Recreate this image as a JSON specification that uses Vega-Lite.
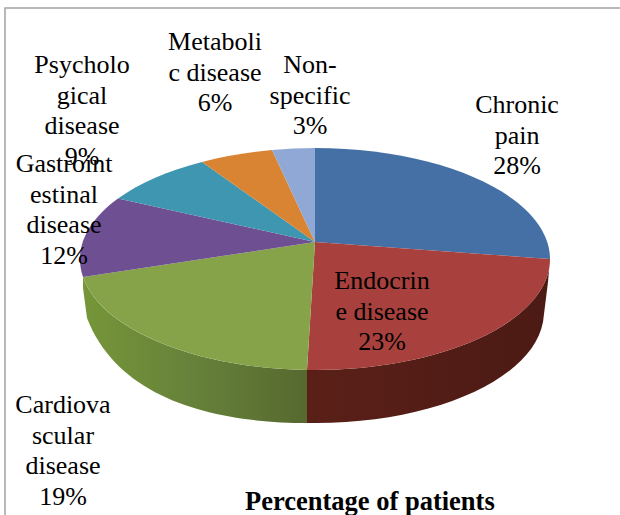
{
  "$schema": "https://vega.github.io/schema/vega-lite/v6.json",
  "width": 620,
  "height": 515,
  "autosize": "none",
  "padding": {"left": 5, "top": 8, "right": 0, "bottom": 0},
  "background": "white",
  "view": {"stroke": "#a3a3a3", "strokeWidth": 1.5},
  "title": {"text": "Percentage of patients", "font": "Liberation Serif", "fontSize": 26.5, "fontWeight": "bold", "color": "#000000", "anchor": "start", "frame": "group", "offset": 0, "dx": 240, "dy": 528, "baseline": "alphabetic"},
  "datasets": {
    "slices": [
      {"category": "Chronic pain", "percent": 28, "label": "Chronic\npain\n28%"},
      {"category": "Endocrine disease", "percent": 23, "label": "Endocrin\ne disease\n23%"},
      {"category": "Cardiovascular disease", "percent": 19, "label": "Cardiova\nscular\ndisease\n19%"},
      {"category": "Gastrointestinal disease", "percent": 12, "label": "Gastroint\nestinal\ndisease\n12%"},
      {"category": "Psychological disease", "percent": 9, "label": "Psycholo\ngical\ndisease\n9%"},
      {"category": "Metabolic disease", "percent": 6, "label": "Metaboli\nc disease\n6%"},
      {"category": "Non-specific", "percent": 3, "label": "Non-\nspecific\n3%"}
    ],
    "redSide": [{"category": "Endocrine disease"}],
    "greenSide": [{"category": "Cardiovascular disease"}]
  },
  "encoding": {
    "x": {"datum": 310, "type": "quantitative", "scale": {"domain": [0, 620]}, "axis": null},
    "y": {"datum": 251, "type": "quantitative", "scale": {"domain": [0, 515], "reverse": true}, "axis": null}
  },
  "layer": [
    {
      "data": {"name": "greenSide"},
      "mark": {"type": "point", "filled": true, "opacity": 1, "size": 4, "strokeWidth": 0, "fill": {"gradient": "linear", "x1": 0, "x2": 1, "y1": 0, "y2": 0, "stops": [{"offset": 0, "color": "#769639"}, {"offset": 0.5, "color": "#66813a"}, {"offset": 1, "color": "#56692f"}]}, "shape": "M-8,111 L-8,164 C-90,164 -195,145 -228,59 L-232,29 L-232,18 A235 111 0 0 0 -8,111 Z"}
    },
    {
      "data": {"name": "redSide"},
      "mark": {"type": "point", "filled": true, "opacity": 1, "size": 4, "strokeWidth": 0, "fill": {"gradient": "linear", "x1": 0, "x2": 1, "y1": 0, "y2": 0, "stops": [{"offset": 0, "color": "#5a2018"}, {"offset": 1, "color": "#4c1a14"}]}, "shape": "M235,0 L233,23 L228,63 A228 111 0 0 1 -8,164 L-8,111 A235 111 0 0 0 235,0 Z"}
    },
    {
      "data": {"name": "slices"},
      "mark": {"type": "point", "filled": true, "opacity": 1, "size": 4, "strokeWidth": 0},
      "encoding": {
        "fill": {"field": "category", "type": "nominal", "legend": null, "scale": {
          "domain": ["Chronic pain", "Endocrine disease", "Cardiovascular disease", "Gastrointestinal disease", "Psychological disease", "Metabolic disease", "Non-specific"],
          "range": ["#4470a6", "#a8403d", "#87a34a", "#6d4f92", "#3f96b0", "#d98433", "#8fa8d5"]}},
        "shape": {"field": "category", "type": "nominal", "legend": null, "scale": {
          "domain": ["Chronic pain", "Endocrine disease", "Cardiovascular disease", "Gastrointestinal disease", "Psychological disease", "Metabolic disease", "Non-specific"],
          "range": [
            "M0,-17 L0,-111 A235 111 0 0 1 235,0 Z",
            "M0,-17 L235,0 A235 111 0 0 1 -8,111 Z",
            "M0,-17 L-8,111 A235 111 0 0 1 -232,18 Z",
            "M0,-17 L-232,18 A235 111 0 0 1 -197,-60.5 Z",
            "M0,-17 L-197,-60.5 A235 111 0 0 1 -113,-97 Z",
            "M0,-17 L-113,-97 A235 111 0 0 1 -43,-109 Z",
            "M0,-17 L-43,-109 A235 111 0 0 1 0,-111 Z"
          ]}}
      }
    },
    {
      "data": {"name": "slices"},
      "transform": [{"filter": "datum.category === 'Chronic pain'"}],
      "mark": {"type": "text", "font": "Liberation Serif", "fontSize": 26, "lineHeight": 30.7, "align": "center", "baseline": "alphabetic", "color": "#000000", "lineBreak": "\n"},
      "encoding": {"text": {"field": "label"}, "x": {"datum": 512}, "y": {"datum": 105}}
    },
    {
      "data": {"name": "slices"},
      "transform": [{"filter": "datum.category === 'Endocrine disease'"}],
      "mark": {"type": "text", "font": "Liberation Serif", "fontSize": 26, "lineHeight": 30.7, "align": "center", "baseline": "alphabetic", "color": "#000000", "lineBreak": "\n"},
      "encoding": {"text": {"field": "label"}, "x": {"datum": 377}, "y": {"datum": 281}}
    },
    {
      "data": {"name": "slices"},
      "transform": [{"filter": "datum.category === 'Cardiovascular disease'"}],
      "mark": {"type": "text", "font": "Liberation Serif", "fontSize": 26, "lineHeight": 30.7, "align": "center", "baseline": "alphabetic", "color": "#000000", "lineBreak": "\n"},
      "encoding": {"text": {"field": "label"}, "x": {"datum": 58}, "y": {"datum": 405}}
    },
    {
      "data": {"name": "slices"},
      "transform": [{"filter": "datum.category === 'Gastrointestinal disease'"}],
      "mark": {"type": "text", "font": "Liberation Serif", "fontSize": 26, "lineHeight": 30.7, "align": "center", "baseline": "alphabetic", "color": "#000000", "lineBreak": "\n"},
      "encoding": {"text": {"field": "label"}, "x": {"datum": 59}, "y": {"datum": 164}}
    },
    {
      "data": {"name": "slices"},
      "transform": [{"filter": "datum.category === 'Psychological disease'"}],
      "mark": {"type": "text", "font": "Liberation Serif", "fontSize": 26, "lineHeight": 30.7, "align": "center", "baseline": "alphabetic", "color": "#000000", "lineBreak": "\n"},
      "encoding": {"text": {"field": "label"}, "x": {"datum": 77}, "y": {"datum": 65}}
    },
    {
      "data": {"name": "slices"},
      "transform": [{"filter": "datum.category === 'Metabolic disease'"}],
      "mark": {"type": "text", "font": "Liberation Serif", "fontSize": 26, "lineHeight": 30.7, "align": "center", "baseline": "alphabetic", "color": "#000000", "lineBreak": "\n"},
      "encoding": {"text": {"field": "label"}, "x": {"datum": 210}, "y": {"datum": 42}}
    },
    {
      "data": {"name": "slices"},
      "transform": [{"filter": "datum.category === 'Non-specific'"}],
      "mark": {"type": "text", "font": "Liberation Serif", "fontSize": 26, "lineHeight": 30.7, "align": "center", "baseline": "alphabetic", "color": "#000000", "lineBreak": "\n"},
      "encoding": {"text": {"field": "label"}, "x": {"datum": 305}, "y": {"datum": 65}}
    }
  ],
  "resolve": {"scale": {"fill": "independent", "shape": "independent"}}
}
